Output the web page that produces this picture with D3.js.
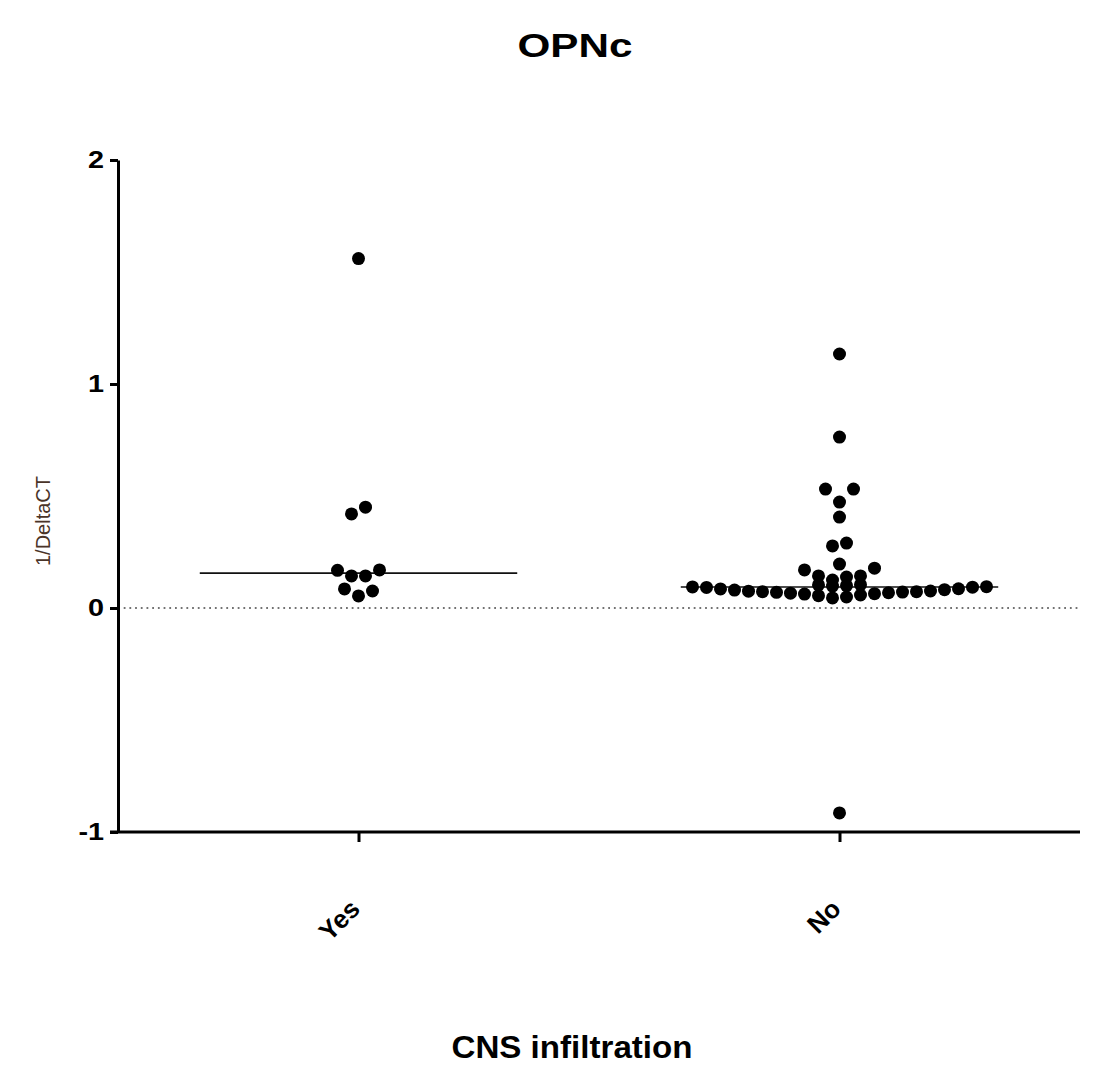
<!DOCTYPE html>
<html>
<head>
<meta charset="utf-8">
<script src="https://cdn.jsdelivr.net/npm/d3@7"></script>
<style>
  body { margin: 0; background: #fff; }
  text { font-family: "Liberation Sans", Arial, sans-serif; }
</style>
</head>
<body>
<div id="chart"></div>
<script>
// values
const categories = ['Yes', 'No'];
const yesValues = [1.56, 0.45, 0.42, 0.170, 0.168, 0.143, 0.143, 0.085, 0.076, 0.054];
const noValues = [
  1.134, 0.763, 0.531, 0.531, 0.473, 0.406, 0.290, 0.277, 0.196,
  0.178, 0.170, 0.143, 0.143, 0.138, 0.125,
  0.104, 0.103, 0.100, 0.098,
  0.095, 0.094, 0.093, 0.092, 0.086, 0.085, 0.082, 0.080, 0.076, 0.075, 0.073,
  0.073, 0.071, 0.070, 0.068, 0.066, 0.064, 0.062, 0.058, 0.055, 0.049, 0.045,
  -0.915
];
const yTicks = [-1, 0, 1, 2];
const title = 'OPNc';
const xTitle = 'CNS infiltration';
const yTitle = '1/DeltaCT';

const W = 1097, H = 1068;
const margin = { top: 160, right: 17, bottom: 236, left: 118 };
const innerW = W - margin.left - margin.right;
const innerH = H - margin.top - margin.bottom;

const svg = d3.select('#chart').append('svg')
  .attr('width', W).attr('height', H);
const g = svg.append('g')
  .attr('transform', `translate(${margin.left},${margin.top})`);

const x = d3.scalePoint().domain(categories).range([0, innerW]).padding(0.5);
const y = d3.scaleLinear().domain([-1, 2]).range([innerH, 0]);

const groups = [
  { name: 'Yes', values: yesValues },
  { name: 'No', values: noValues },
];

const r = 6.5;            // dot radius
const colStep = 14;       // horizontal spacing of dots in a row
const binPx = 13.6;       // values closer than this (in px) share a row
const halfLine = x.step() * 0.33;
const rowCap = Math.floor(2 * halfLine / colStep);

// centre-out slot offsets, lowest values nearest the centre
function slots(n) {
  const out = [];
  if (n % 2) {
    out.push(0);
    for (let k = 1; out.length < n; k++) { out.push(k); if (out.length < n) out.push(-k); }
  } else {
    for (let k = 0.5; out.length < n; k++) { out.push(-k); out.push(k); }
  }
  return out;
}

// Prism-like scatter layout
function layout(values) {
  const sorted = values.slice().sort((a, b) => a - b);
  const bins = [];
  sorted.forEach(v => {
    const last = bins[bins.length - 1];
    if (last && (y(last[0]) - y(v)) < binPx) last.push(v);
    else bins.push([v]);
  });
  const pts = [];
  bins.forEach(bin => {
    for (let i = 0; i < bin.length; i += rowCap) {
      const row = bin.slice(i, i + rowCap);
      const off = slots(row.length);
      row.forEach((v, j) => pts.push({ v, dx: off[j] * colStep }));
    }
  });
  return pts;
}

// zero line
g.append('line')
  .attr('x1', 0).attr('x2', innerW)
  .attr('y1', y(0)).attr('y2', y(0))
  .attr('stroke', '#444').attr('stroke-width', 1.6)
  .attr('stroke-dasharray', '1.8,3.9');

// axes
const yAxis = g.append('g')
  .call(d3.axisLeft(y).tickValues(yTicks).tickSize(8).tickSizeOuter(0).tickFormat(d => String(d)));
const xAxis = g.append('g')
  .attr('transform', `translate(0,${innerH})`)
  .call(d3.axisBottom(x).tickSize(10).tickSizeOuter(0));

[yAxis, xAxis].forEach(a => {
  a.select('.domain').attr('stroke', '#000').attr('stroke-width', 3);
  a.selectAll('.tick line').attr('stroke', '#000').attr('stroke-width', 3);
});
xAxis.select('.domain').attr('d', `M-8,0H${innerW}`);

yAxis.selectAll('.tick text')
  .attr('x', -14)
  .attr('transform', 'translate(-14,0) scale(1.2,1) translate(14,0)')
  .style('font-size', '24px').style('font-weight', 'bold').attr('fill', '#000');

xAxis.selectAll('.tick text')
  .attr('text-anchor', 'end')
  .attr('transform', 'translate(-4,72) rotate(-45)')
  .attr('y', 0).attr('dy', '0.35em')
  .style('font-size', '26px').style('font-weight', 'bold').attr('fill', '#000');

// points and medians
groups.forEach(grp => {
  const cx = x(grp.name);
  const med = d3.median(grp.values);
  g.append('line')
    .attr('x1', cx - halfLine).attr('x2', cx + halfLine)
    .attr('y1', y(med)).attr('y2', y(med))
    .attr('stroke', '#111').attr('stroke-width', 1.6);

  g.append('g').selectAll('circle')
    .data(layout(grp.values))
    .join('circle')
    .attr('cx', d => cx + d.dx)
    .attr('cy', d => y(d.v))
    .attr('r', r)
    .attr('fill', '#000');
});

// titles
svg.append('text')
  .attr('x', 575).attr('y', 57)
  .attr('text-anchor', 'middle')
  .attr('textLength', 115).attr('lengthAdjust', 'spacingAndGlyphs')
  .style('font-size', '33px').style('font-weight', 'bold')
  .text(title);

svg.append('text')
  .attr('transform', 'translate(50,521) rotate(-90)')
  .attr('text-anchor', 'middle')
  .style('font-size', '20px').attr('fill', '#4a3428')
  .text(yTitle);

svg.append('text')
  .attr('x', 572).attr('y', 1058)
  .attr('text-anchor', 'middle')
  .attr('textLength', 241).attr('lengthAdjust', 'spacingAndGlyphs')
  .style('font-size', '32px').style('font-weight', 'bold')
  .text(xTitle);
</script>
</body>
</html>
